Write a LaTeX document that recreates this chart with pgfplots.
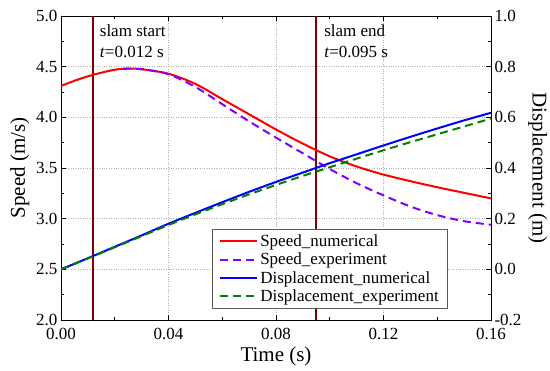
\documentclass[border=0pt]{standalone}
\usepackage{fontspec}
\setmainfont{Liberation Serif}
\usepackage{pgfplots}
\pgfplotsset{compat=1.18}
\definecolor{slam}{RGB}{128,0,0}
\definecolor{spdexp}{RGB}{128,0,255}
\definecolor{dispexp}{RGB}{0,128,0}
\pgfplotsset{
  common/.style={
    width=430bp, height=304bp, scale only axis,
    xmin=0, xmax=0.16,
    tick label style={font=\fontsize{17bp}{20bp}\selectfont},
    label style={font=\fontsize{21bp}{25bp}\selectfont},
    /pgf/number format/assume math mode=true,
    major tick length=5bp, minor tick length=3bp,
    every tick/.style={black, line width=0.8bp},
    axis line style={line width=0.8bp},
  }
}
\begin{document}
\begin{tikzpicture}
\begin{axis}[common, name=ax,
  ymin=2, ymax=5,
  xtick={0,0.04,0.08,0.12,0.16}, minor x tick num=1,
  ytick={2,2.5,3,3.5,4,4.5,5}, minor y tick num=1,
  scaled x ticks=false, scaled y ticks=false,
  xticklabel style={yshift=-5bp, /pgf/number format/.cd, fixed, fixed zerofill, precision=2},
  yticklabel style={/pgf/number format/.cd, fixed, fixed zerofill, precision=1},
  ytick pos=left, xtick pos=both,
  grid=major, major grid style={gray!60, dotted, line width=0.6bp},
  xlabel={Time (s)}, ylabel={Speed (m/s)},
  xlabel style={yshift=0bp},
]
\addplot[slam, line width=2bp, forget plot] coordinates {(0.012,2) (0.012,5)};
\addplot[slam, line width=2bp, forget plot] coordinates {(0.095,2) (0.095,5)};
\addplot[red, line width=2bp, smooth] coordinates {
(0,4.31) (0.006,4.37) (0.012,4.42) (0.02,4.47) (0.025,4.48) (0.03,4.475) (0.04,4.43)
(0.05,4.33) (0.06,4.18) (0.07,4.03) (0.08,3.88) (0.09,3.74) (0.10,3.615)
(0.11,3.515) (0.12,3.435) (0.13,3.37) (0.14,3.31) (0.15,3.255) (0.16,3.20)};
\addplot[spdexp, line width=2bp, dash pattern=on 8bp off 5bp, smooth] coordinates {
(0.023,4.48) (0.03,4.475) (0.04,4.425) (0.05,4.30) (0.06,4.13) (0.07,3.96) (0.08,3.80)
(0.09,3.645) (0.10,3.49) (0.11,3.35) (0.12,3.23) (0.13,3.12) (0.14,3.035)
(0.15,2.975) (0.16,2.94)};
\node[anchor=north west, align=left, inner sep=0pt, font=\fontsize{17bp}{21bp}\selectfont]
  at (axis cs:0.0144,4.92) {slam start\\\textit{t}=0.012 s};
\node[anchor=north west, align=left, inner sep=0pt, font=\fontsize{17bp}{21bp}\selectfont]
  at (axis cs:0.0979,4.92) {slam end\\\textit{t}=0.095 s};
\end{axis}
\begin{axis}[common,
  ymin=-0.2, ymax=1.0,
  axis x line=none, axis y line*=right,
  ytick={-0.2,0,0.2,0.4,0.6,0.8,1.0}, minor y tick num=1,
  scaled y ticks=false,
  yticklabel style={/pgf/number format/.cd, fixed, fixed zerofill, precision=1},
  ylabel={Displacement (m)}, ylabel style={rotate=180},
  legend style={at={(0.9,0.039)}, anchor=south east, draw=gray!70!black, line width=0.6bp,
    fill=white, font=\fontsize{17bp}{20bp}\selectfont, row sep=1bp,
    inner xsep=7bp, inner ysep=3bp},
  legend cell align=left,
  legend image code/.code={\draw[#1] (0bp,0bp) -- (37bp,0bp);},
]
\addlegendimage{red, line width=2bp}
\addlegendentry{Speed\_numerical}
\addlegendimage{spdexp, line width=2bp, dash pattern=on 8bp off 5bp}
\addlegendentry{Speed\_experiment}
\addplot[blue, line width=2bp, smooth] coordinates {
(0,0) (0.01,0.044) (0.02,0.089) (0.03,0.134) (0.04,0.180) (0.05,0.223) (0.06,0.265)
(0.07,0.306) (0.08,0.345) (0.09,0.382) (0.10,0.419) (0.11,0.454) (0.12,0.489)
(0.13,0.523) (0.14,0.556) (0.15,0.588) (0.16,0.618)};
\addlegendentry{Displacement\_numerical}
\addplot[dispexp, line width=2bp, dash pattern=on 8bp off 5bp, smooth] coordinates {
(0,0) (0.01,0.043) (0.02,0.087) (0.03,0.131) (0.04,0.175) (0.05,0.217) (0.06,0.257)
(0.07,0.296) (0.08,0.333) (0.09,0.369) (0.10,0.403) (0.11,0.437) (0.12,0.470)
(0.13,0.502) (0.14,0.533) (0.15,0.564) (0.16,0.595)};
\addlegendentry{Displacement\_experiment}
\end{axis}
\pgfresetboundingbox
\path ([shift={(-61bp,-51bp)}]ax.south west) rectangle ([shift={(59bp,16bp)}]ax.north east);
\end{tikzpicture}
\end{document}
